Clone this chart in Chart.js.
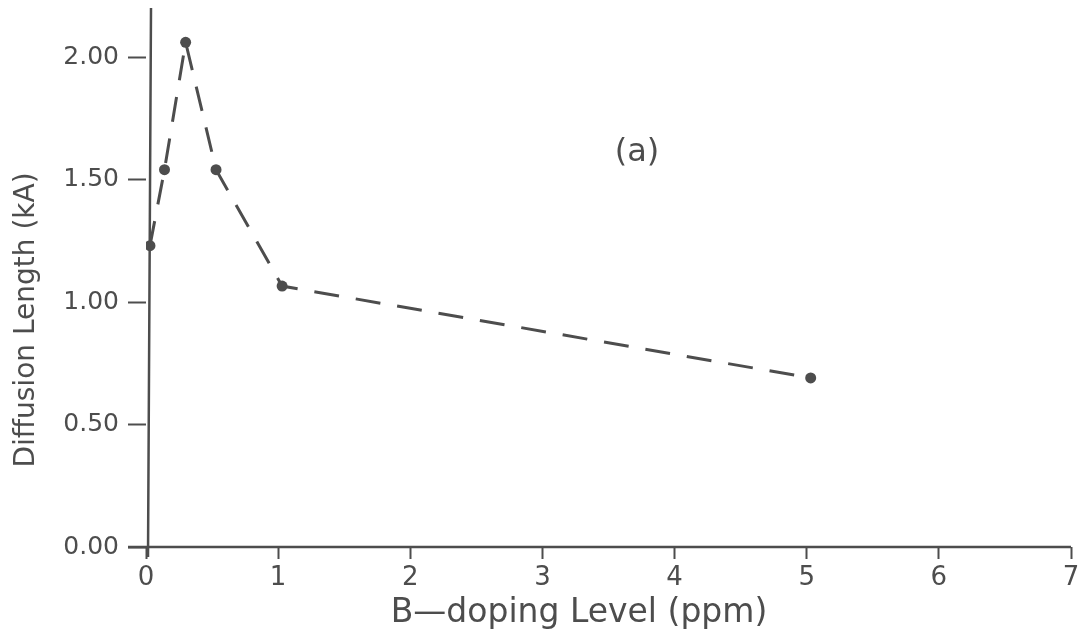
<!DOCTYPE html>
<html>
<head>
<meta charset="utf-8">
<script src="https://cdn.jsdelivr.net/npm/chart.js@4"></script>
<style>
    html, body { margin: 0; padding: 0; background: #fff; }
    #wrap { width: 1090px; height: 642px; }
</style>
</head>
<body>
<div id="wrap"><canvas id="diffChart" width="1090" height="642"></canvas></div>
<script>
// B-doping level (ppm) vs diffusion length (kA)
const dopingLevel = [0.03, 0.14, 0.3, 0.53, 1.03, 5.03];
const diffusionLength = [1.23, 1.54, 2.06, 1.54, 1.065, 0.69];
const xTicks = [0, 1, 2, 3, 4, 5, 6, 7];
const yTicks = [0, 0.5, 1.0, 1.5, 2.0];
const xTitle = 'B\u2014doping Level (ppm)';
const yTitle = 'Diffusion Length (kA)';
const panelLabel = '(a)';

const ink = '#4d4d4d';
const fontFamily = '"DejaVu Sans", sans-serif';

// axis lines, titles and panel label
const decorations = {
    id: 'decorations',
    afterDraw(chart) {
        const ctx = chart.ctx;
        const x = chart.scales.x;
        const y = chart.scales.y;
        const x0 = x.getPixelForValue(0);
        const y0 = y.getPixelForValue(0);
        ctx.save();
        ctx.strokeStyle = ink;
        ctx.lineWidth = 2.5;
        ctx.beginPath();
        ctx.moveTo(x0 - 18, y0);
        ctx.lineTo(x.getPixelForValue(7), y0);
        ctx.moveTo(x0 + 5, chart.chartArea.top);
        ctx.lineTo(x0 + 2, y0 + 10);
        ctx.stroke();

        ctx.fillStyle = ink;
        ctx.textAlign = 'center';
        ctx.textBaseline = 'middle';
        ctx.font = '33px ' + fontFamily;
        ctx.fillText(xTitle, 579, 613);

        ctx.save();
        ctx.translate(27, 320);
        ctx.rotate(-Math.PI / 2);
        ctx.font = '28px ' + fontFamily;
        ctx.fillText(yTitle, 0, 0);
        ctx.restore();

        ctx.font = '32px ' + fontFamily;
        ctx.fillText(panelLabel, 637, 153);
        ctx.restore();
    }
};

new Chart(document.getElementById('diffChart'), {
    type: 'scatter',
    data: {
        datasets: [{
            data: dopingLevel.map((v, i) => ({ x: v, y: diffusionLength[i] })),
            showLine: true,
            borderColor: ink,
            borderWidth: 3,
            borderDash: [25, 17],
            backgroundColor: ink,
            pointBackgroundColor: ink,
            pointBorderWidth: 0,
            pointRadius: 5.5,
            tension: 0
        }]
    },
    options: {
        responsive: false,
        animation: false,
        layout: { padding: { top: 8, right: 19 } },
        plugins: {
            legend: { display: false },
            tooltip: { enabled: false }
        },
        scales: {
            x: {
                type: 'linear',
                min: 0,
                max: 7,
                afterBuildTicks: (s) => { s.ticks = xTicks.map(v => ({ value: v })); },
                afterFit: (s) => { s.height = 95; s.paddingLeft = 0; s.paddingRight = 0; },
                border: { display: false },
                grid: {
                    drawOnChartArea: false,
                    drawTicks: true,
                    tickLength: 12,
                    color: ink,
                    tickWidth: 2
                },
                ticks: {
                    color: ink,
                    padding: 4,
                    font: { family: fontFamily, size: 26 }
                }
            },
            y: {
                type: 'linear',
                min: 0,
                max: 2.2,
                afterBuildTicks: (s) => { s.ticks = yTicks.map(v => ({ value: v })); },
                afterFit: (s) => { s.width = 146; s.paddingTop = 0; s.paddingBottom = 0; },
                border: { display: false },
                grid: {
                    drawOnChartArea: false,
                    drawTicks: true,
                    tickLength: 18,
                    color: ink,
                    tickWidth: 2
                },
                ticks: {
                    color: ink,
                    padding: 9,
                    font: { family: fontFamily, size: 25 },
                    callback: (v) => v.toFixed(2)
                }
            }
        }
    },
    plugins: [decorations]
});
</script>
</body>
</html>
